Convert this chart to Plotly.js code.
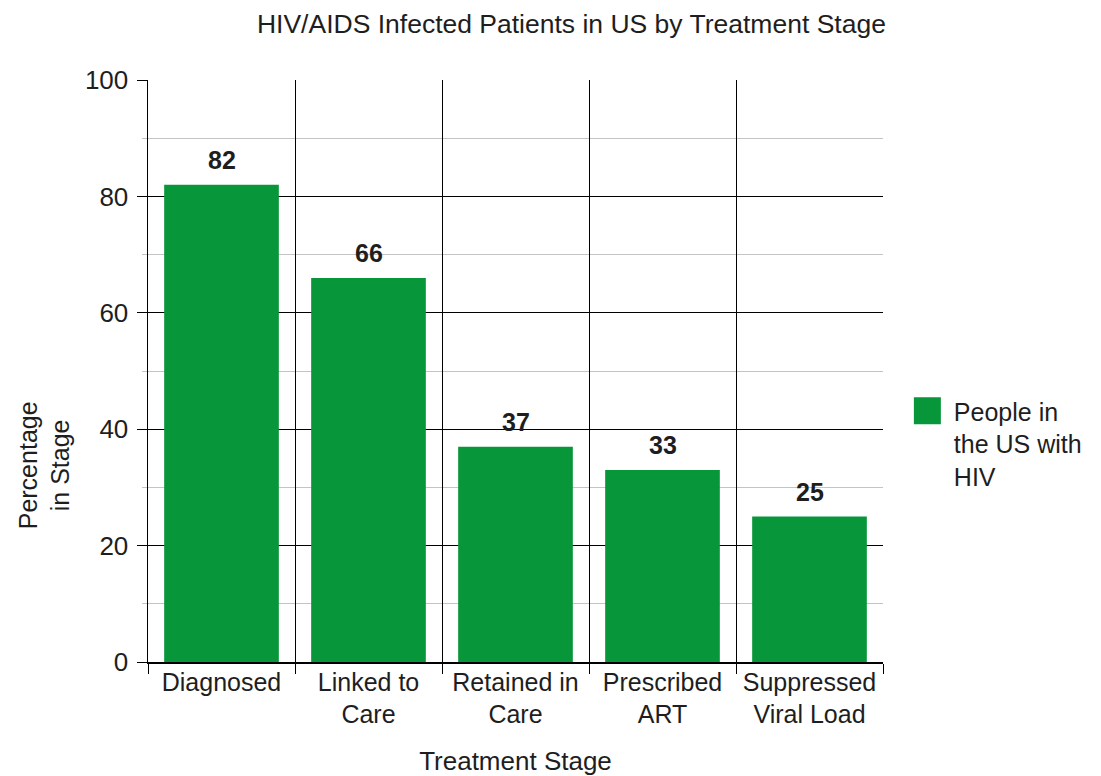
<!DOCTYPE html>
<html><head><meta charset="utf-8">
<script src="https://cdn.plot.ly/plotly-3.0.1.min.js"></script>
<style>body{margin:0;background:#fff}#chart{width:1101px;height:776px}</style>
</head><body><div id="chart"></div>
<script>
const stages = ["Diagnosed", "Linked to<br>Care", "Retained in<br>Care", "Prescribed<br>ART", "Suppressed<br>Viral Load"];
const percentages = [82, 66, 37, 33, 25];
const seriesName = "People in<br>the US with<br>HIV";
const yTickVals = [0, 20, 40, 60, 80, 100];
const yTickText = ["0", "20", "40", "60", "80", "100"];

const FONT = "Liberation Sans, Arial, Helvetica, sans-serif";
const TXT = "#1e1e1e";
const GREEN = "#08963a";
const FS = 26;
const FSM = 25;

const trace = {
  type: "bar",
  x: stages,
  y: percentages,
  name: seriesName,
  width: 0.78,
  marker: {color: GREEN},
  showlegend: true,
  hoverinfo: "x+y"
};

const labelAnns = stages.map((s, i) => ({
  x: s, y: percentages[i], xref: "x", yref: "y",
  text: "<b>" + percentages[i] + "</b>", showarrow: false,
  yanchor: "bottom", yshift: 9,
  font: {family: FONT, size: 25, color: TXT}
}));

const layout = {
  width: 1101, height: 776,
  margin: {l: 148, r: 218, t: 80, b: 114, autoexpand: false},
  paper_bgcolor: "#fff", plot_bgcolor: "#fff",
  font: {family: FONT, size: FS, color: TXT},
  title: {text: "HIV/AIDS Infected Patients in US by Treatment Stage",
    x: 0.519, xref: "container", xanchor: "center",
    y: 0.969, yref: "container", yanchor: "middle",
    font: {family: FONT, size: 26.5, color: TXT}},
  xaxis: {
    type: "category",
    tickson: "boundaries",
    tickangle: 0,
    showgrid: true, gridcolor: "#000", gridwidth: 1,
    showline: true, linecolor: "#000", linewidth: 1.5,
    ticks: "outside", ticklen: 10, tickcolor: "#000",
    ticklabelstandoff: -3,
    tickfont: {family: FONT, size: FSM, color: TXT},
    title: {text: "Treatment Stage", standoff: 27, font: {family: FONT, size: FS, color: TXT}},
    automargin: false
  },
  yaxis: {
    range: [0, 100],
    tickvals: yTickVals, ticktext: yTickText,
    showgrid: true, gridcolor: "#000", gridwidth: 1,
    showline: true, linecolor: "#000", linewidth: 1.5,
    ticks: "outside", ticklen: 10, tickcolor: "#000",
    ticklabelstandoff: 3,
    zeroline: false,
    tickfont: {family: FONT, size: FS, color: TXT},
    minor: {dtick: 10, showgrid: true, gridcolor: "#c4c4c4", gridwidth: 1,
      ticks: "outside", ticklen: 5, tickcolor: "#c4c4c4"},
    automargin: false
  },
  legend: {
    x: 1.042, xanchor: "left", y: 0.47, yanchor: "top",
    valign: "top",
    font: {family: FONT, size: FSM, color: TXT},
    bgcolor: "rgba(0,0,0,0)"
  },
  annotations: labelAnns.concat([{
    text: "Percentage<br>in Stage", textangle: -90, showarrow: false,
    xref: "paper", yref: "paper", x: -0.1415, y: 0.338,
    xanchor: "center", yanchor: "middle",
    font: {family: FONT, size: FSM, color: TXT}
  }]),
  bargap: 0.2
};

Plotly.newPlot("chart", [trace], layout, {displayModeBar: false, staticPlot: true}).then(gd => {
  gd.querySelectorAll(".legendpoints path").forEach(p => {
    p.setAttribute("d", "M-21,-14h28v27h-28Z");
  });
});
</script>
</body></html>
